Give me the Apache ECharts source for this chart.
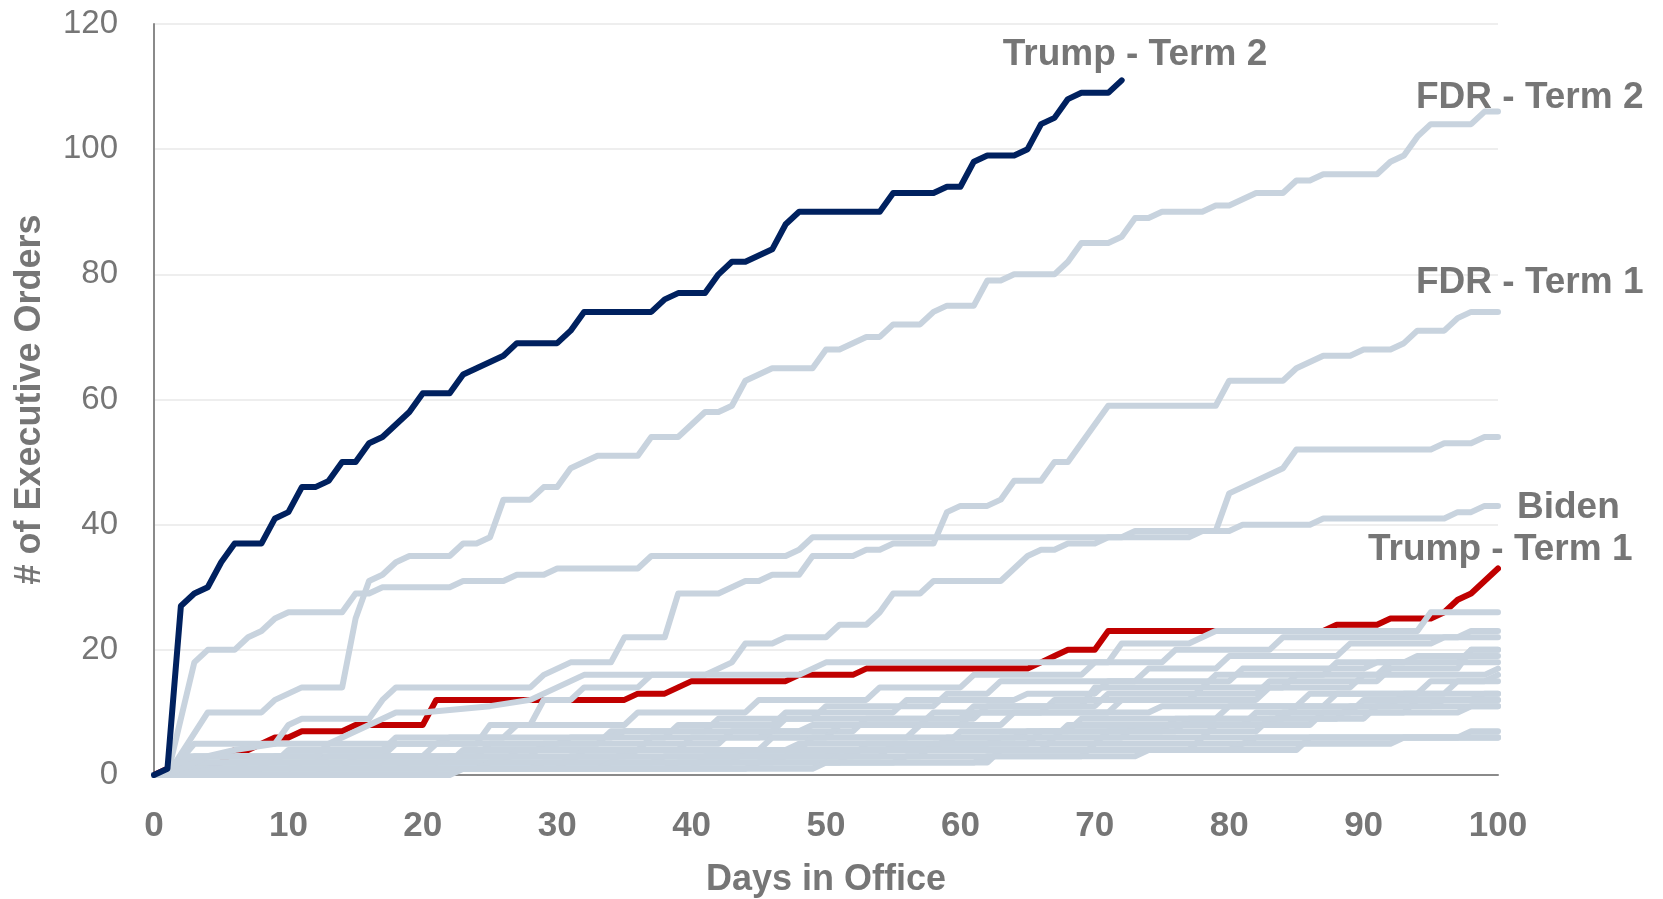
<!DOCTYPE html>
<html>
<head>
<meta charset="utf-8">
<title>Executive Orders in the First 100 Days</title>
<script src="https://cdn.jsdelivr.net/npm/echarts@6/dist/echarts.min.js"></script>
<style>
  html, body { margin: 0; padding: 0; background: #ffffff; }
  #chart { width: 1663px; height: 899px; }
</style>
</head>
<body>
<div id="chart"></div>
<script>
// Cumulative executive orders by day in office, as [day, count] vertices of each step line.
const trumpTerm2 = [[0,0],[1,1],[2,27],[3,29],[4,30],[5,34],[6,37],[8,37],[9,41],[10,42],[11,46],[12,46],[13,47],[14,50],[15,50],[16,53],[17,54],[18,56],[19,58],[20,61],[22,61],[23,64],[24,65],[25,66],[26,67],[27,69],[30,69],[31,71],[32,74],[37,74],[38,76],[39,77],[41,77],[42,80],[43,82],[44,82],[45,83],[46,84],[47,88],[48,90],[54,90],[55,93],[58,93],[59,94],[60,94],[61,98],[62,99],[64,99],[65,100],[66,104],[67,105],[68,108],[69,109],[71,109],[72,111]];

const trumpTerm1 = [[0,0],[1,1],[4,1],[5,2],[6,4],[7,4],[8,5],[9,6],[10,6],[11,7],[14,7],[15,8],[20,8],[21,12],[35,12],[36,13],[38,13],[39,14],[40,15],[47,15],[48,16],[52,16],[53,17],[65,17],[66,18],[67,19],[68,20],[70,20],[71,23],[87,23],[88,24],[91,24],[92,25],[95,25],[96,26],[97,28],[98,29],[99,31],[100,33]];

const fdrTerm2 = [[0,0],[1,0],[4,10],[8,10],[9,12],[10,13],[11,14],[14,14],[15,25],[16,31],[17,32],[18,34],[19,35],[22,35],[23,37],[24,37],[25,38],[26,44],[28,44],[29,46],[30,46],[31,49],[33,51],[36,51],[37,54],[39,54],[40,56],[41,58],[42,58],[43,59],[44,63],[45,64],[46,65],[49,65],[50,68],[51,68],[53,70],[54,70],[55,72],[57,72],[58,74],[59,75],[61,75],[62,79],[63,79],[64,80],[67,80],[68,82],[69,85],[71,85],[72,86],[73,89],[74,89],[75,90],[78,90],[79,91],[80,91],[81,92],[82,93],[84,93],[85,95],[86,95],[87,96],[91,96],[92,98],[93,99],[94,102],[95,104],[98,104],[99,106],[100,106]];

const fdrTerm1 = [[0,0],[1,0],[2,1],[4,3],[6,4],[9,5],[10,8],[11,9],[16,9],[17,12],[18,14],[28,14],[29,16],[31,18],[34,18],[35,22],[38,22],[39,29],[42,29],[43,30],[44,31],[45,31],[46,32],[48,32],[49,35],[52,35],[53,36],[54,36],[55,37],[58,37],[59,42],[60,43],[62,43],[63,44],[64,47],[66,47],[67,50],[68,50],[71,59],[79,59],[80,63],[84,63],[85,65],[87,67],[89,67],[90,68],[92,68],[93,69],[94,71],[96,71],[97,73],[98,74],[100,74]];

const biden = [[0,0],[1,0],[3,18],[4,20],[6,20],[7,22],[8,23],[9,25],[10,26],[14,26],[15,29],[16,29],[17,30],[22,30],[23,31],[26,31],[27,32],[29,32],[30,33],[36,33],[37,35],[47,35],[48,36],[49,38],[72,38],[73,39],[80,39],[81,40],[86,40],[87,41],[96,41],[97,42],[98,42],[99,43],[100,43]];

// Remaining presidential terms, drawn as the grey background field.
const otherTerms = [
  [[0,0],[1,0],[3,3],[12,3],[13,5],[16,8],[18,10],[20,10],[25,11],[28,12],[32,16],[41,16],[43,18],[44,21],[46,21],[47,22],[50,22],[51,24],[53,24],[54,26],[55,29],[57,29],[58,31],[63,31],[64,33],[65,35],[66,36],[67,36],[68,37],[70,37],[71,38],[77,38],[78,39],[79,39],[80,45],[81,46],[84,49],[85,52],[95,52],[96,53],[98,53],[99,54],[100,54]],
  [[0,0],[1,0],[2,1],[8,1],[9,3],[17,3],[18,5],[24,5],[25,8],[28,8],[29,12],[31,12],[32,14],[36,14],[37,16],[48,16],[49,17],[50,18],[71,18],[72,21],[77,21],[79,23],[94,23],[95,26],[100,26]],
  [[0,0],[1,0],[2,2],[9,2],[10,4],[17,4],[18,6],[26,6],[27,8],[35,8],[36,10],[44,10],[45,12],[53,12],[54,14],[60,14],[61,16],[69,16],[70,18],[75,18],[76,20],[83,20],[84,22],[97,22],[98,23],[100,23]],
  [[0,0],[1,0],[3,1],[14,1],[15,3],[24,3],[25,5],[33,5],[34,7],[41,7],[42,9],[49,9],[50,11],[58,11],[59,13],[62,13],[63,15],[73,15],[74,17],[79,17],[80,19],[88,19],[89,21],[95,21],[96,22],[100,22]],
  [[0,0],[1,0],[2,3],[20,3],[21,5],[30,5],[31,6],[38,6],[39,8],[46,8],[47,10],[55,10],[56,12],[64,12],[65,13],[70,13],[71,15],[80,15],[81,17],[90,17],[91,18],[97,18],[98,20],[100,20]],
  [[0,0],[1,0],[2,1],[6,1],[7,2],[22,2],[23,4],[36,4],[37,6],[45,6],[46,7],[52,7],[53,9],[61,9],[62,11],[69,11],[70,14],[78,14],[79,16],[87,16],[88,18],[93,18],[94,19],[100,19]],
  [[0,0],[1,0],[2,2],[12,2],[13,3],[28,3],[29,5],[42,5],[43,7],[48,7],[49,8],[57,8],[58,10],[66,10],[67,12],[77,12],[78,14],[84,14],[85,16],[91,16],[92,18],[100,18]],
  [[0,0],[1,0],[4,1],[16,1],[17,2],[26,2],[27,4],[39,4],[40,6],[50,6],[51,8],[60,8],[61,10],[71,10],[72,12],[82,12],[83,14],[89,14],[90,16],[99,16],[100,17]],
  [[0,0],[1,0],[2,2],[31,2],[32,4],[45,4],[46,6],[56,6],[57,8],[63,8],[64,10],[74,10],[75,11],[85,11],[86,13],[94,13],[95,15],[99,15],[100,16]],
  [[0,0],[1,0],[3,1],[18,1],[19,2],[34,2],[35,4],[47,4],[48,5],[59,5],[60,7],[68,7],[69,9],[79,9],[80,11],[87,11],[88,13],[96,13],[97,15],[100,15]],
  [[0,0],[1,0],[2,1],[10,1],[11,2],[37,2],[38,3],[54,3],[55,5],[65,5],[66,7],[76,7],[77,9],[84,9],[85,11],[92,11],[93,13],[100,13]],
  [[0,0],[1,0],[5,1],[24,1],[25,2],[43,2],[44,4],[58,4],[59,6],[67,6],[68,8],[81,8],[82,10],[89,10],[90,12],[98,12],[99,13],[100,13]],
  [[0,0],[1,0],[2,1],[40,1],[41,3],[52,3],[53,5],[62,5],[63,6],[72,6],[73,8],[83,8],[84,10],[93,10],[94,12],[100,12]],
  [[0,0],[1,0],[3,2],[21,2],[22,3],[35,3],[36,4],[48,4],[49,6],[64,6],[65,7],[75,7],[76,9],[88,9],[89,11],[95,11],[96,12],[100,12]],
  [[0,0],[1,0],[2,1],[28,1],[29,2],[46,2],[47,3],[57,3],[58,5],[70,5],[71,7],[82,7],[83,9],[90,9],[91,11],[100,11]],
  [[0,0],[1,0],[8,1],[33,1],[34,2],[51,2],[52,4],[66,4],[67,6],[78,6],[79,8],[86,8],[87,10],[97,10],[98,11],[100,11]],
  [[0,0],[1,0],[20,0],[21,1],[44,1],[45,2],[61,2],[62,3],[73,3],[74,4],[85,4],[86,6],[97,6],[98,7],[100,7]],
  [[0,0],[1,0],[12,0],[13,1],[38,1],[39,2],[55,2],[56,3],[69,3],[70,5],[92,5],[93,6],[100,6]],
  [[0,0],[1,0],[5,1],[30,1],[31,3],[50,3],[51,4],[77,4],[78,6],[100,6]],
  [[0,0],[1,0],[22,0],[23,1],[49,1],[50,2],[62,2],[63,4],[80,4],[82,6],[100,6]],
  [[0,0],[1,0],[3,5],[21,5],[22,6],[34,6],[35,7],[46,7],[47,9],[60,9],[61,11],[70,11],[71,13],[82,13],[83,15],[91,15],[92,17],[97,17],[98,20],[100,20]]
];

const dayRange = [0, 100];
const orderRange = [0, 120];

const GREY = '#c8d3de';
const NAVY = '#00215f';
const RED = '#c00000';
const TEXT = '#767676';
const FONT = '"Liberation Sans", Arial, Helvetica, sans-serif';
const LINE_WIDTH = 6;

function lineSeries(name, data, color, z) {
  return {
    name: name,
    type: 'line',
    data: data,
    showSymbol: false,
    symbol: 'none',
    clip: false,
    silent: true,
    z: z,
    lineStyle: { color: color, width: LINE_WIDTH, join: 'round', cap: 'round' },
    emphasis: { disabled: true }
  };
}

const series = [];
series.push(lineSeries('Trump - Term 1', trumpTerm1, RED, 2));
otherTerms.forEach(function (d, i) { series.push(lineSeries('Other ' + (i + 1), d, GREY, 3)); });
series.push(lineSeries('FDR - Term 1', fdrTerm1, GREY, 3));
series.push(lineSeries('FDR - Term 2', fdrTerm2, GREY, 3));
series.push(lineSeries('Biden', biden, GREY, 3));
series.push(lineSeries('Trump - Term 2', trumpTerm2, NAVY, 5));

const chart = echarts.init(document.getElementById('chart'), null, { renderer: 'canvas' });

chart.setOption({
  animation: false,
  backgroundColor: '#ffffff',
  grid: { left: 154, right: 165, top: 24, bottom: 124, containLabel: false, outerBoundsMode: 'none' },
  xAxis: {
    type: 'value',
    min: dayRange[0],
    max: dayRange[1],
    interval: 10,
    name: 'Days in Office',
    nameLocation: 'middle',
    nameGap: 87,
    nameTextStyle: { color: TEXT, fontSize: 36, fontWeight: 'bold', fontFamily: FONT },
    axisLine: { show: true, lineStyle: { color: '#8a8a8a', width: 2 } },
    axisTick: { show: false },
    splitLine: { show: false },
    axisLabel: { color: TEXT, fontSize: 35, fontWeight: 'bold', fontFamily: FONT, margin: 34 }
  },
  yAxis: {
    type: 'value',
    min: orderRange[0],
    max: orderRange[1],
    interval: 20,
    name: '# of Executive Orders',
    nameLocation: 'middle',
    nameGap: 106,
    nameTextStyle: { color: TEXT, fontSize: 36, fontWeight: 'bold', fontFamily: FONT },
    axisLine: { show: true, lineStyle: { color: '#8a8a8a', width: 2 } },
    axisTick: { show: false },
    splitLine: { show: true, lineStyle: { color: '#eeeeee', width: 2 } },
    axisLabel: { color: TEXT, fontSize: 33, fontFamily: FONT, margin: 36 }
  },
  series: series
});

// Series name labels, anchored to each line's final point.
const labels = [
  { text: 'Trump - Term 2', data: trumpTerm2, dx: -119, dy: -26 },
  { text: 'FDR - Term 2', data: fdrTerm2, dx: -82, dy: -14 },
  { text: 'FDR - Term 1', data: fdrTerm1, dx: -82, dy: -29 },
  { text: 'Biden', data: biden, dx: 19, dy: 2 },
  { text: 'Trump - Term 1', data: trumpTerm1, dx: -130, dy: -19 }
];

chart.setOption({
  graphic: labels.map(function (l) {
    const last = l.data[l.data.length - 1];
    const p = chart.convertToPixel({ gridIndex: 0 }, last);
    return {
      type: 'text',
      x: p[0] + l.dx,
      y: p[1] + l.dy,
      z: 10,
      silent: true,
      style: {
        text: l.text,
        fill: TEXT,
        font: 'bold 37px ' + FONT,
        align: 'left',
        verticalAlign: 'middle'
      }
    };
  })
});
</script>
</body>
</html>
